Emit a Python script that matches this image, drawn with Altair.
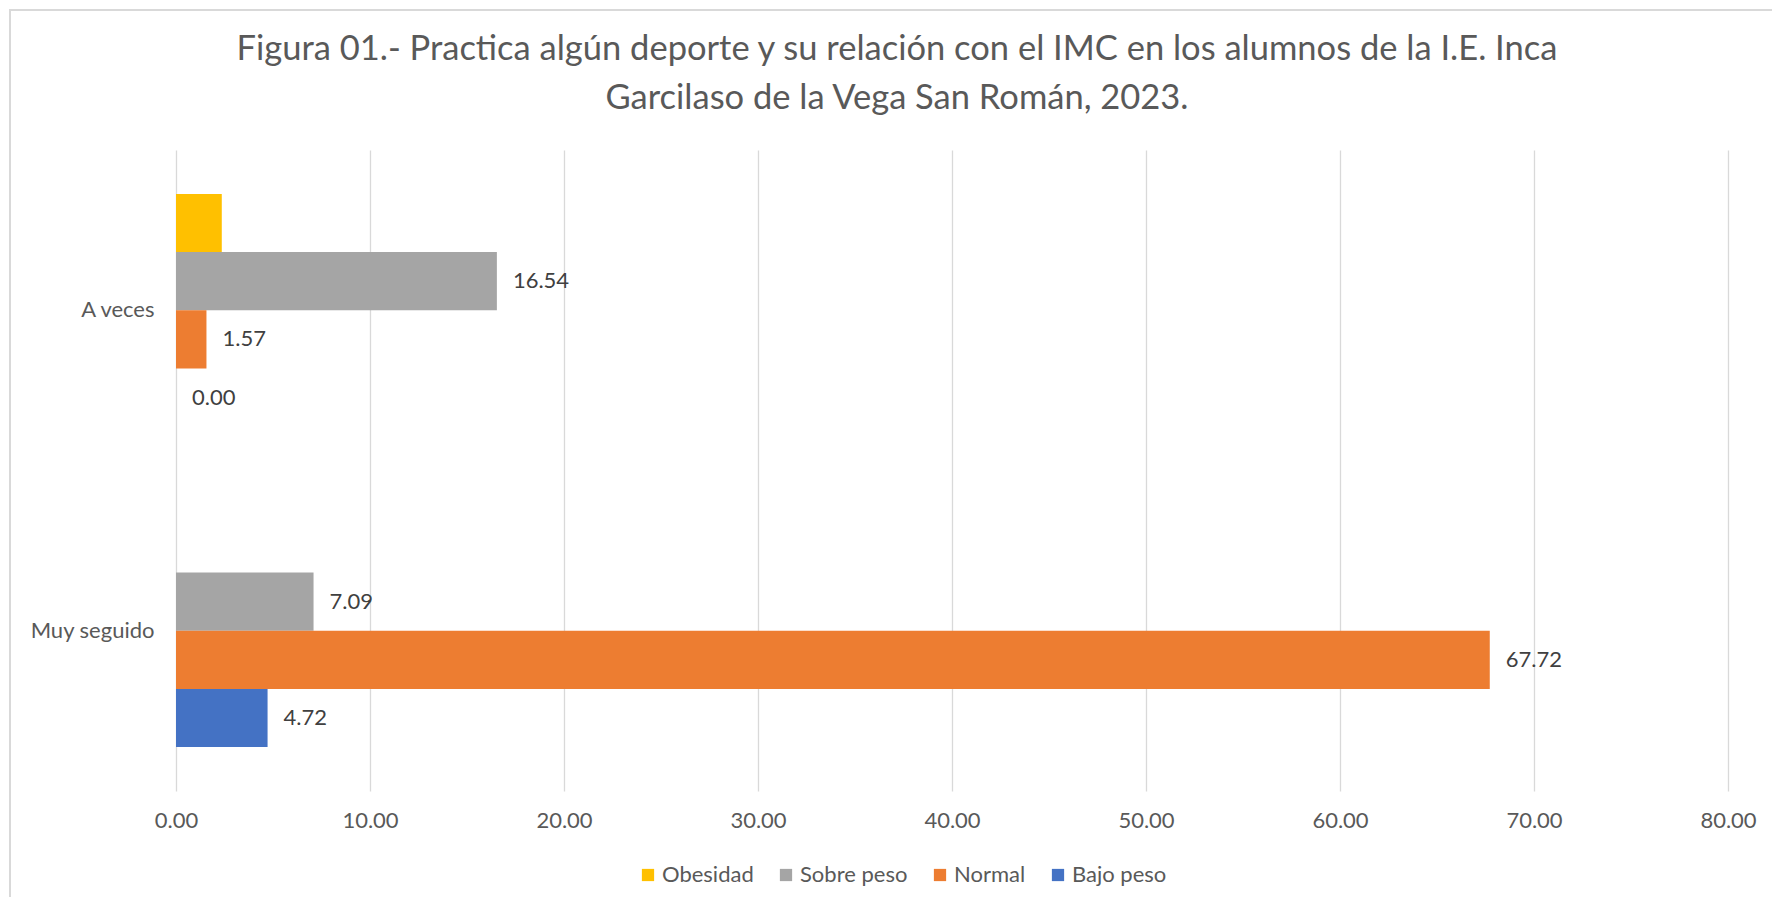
import altair as alt
import pandas as pd

titulo = ["Figura 01.- Practica algún deporte y su relación con el IMC en los alumnos de la I.E. Inca",
          "Garcilaso de la Vega San Román, 2023."]
categorias = ["A veces", "Muy seguido"]
series = ["Obesidad", "Sobre peso", "Normal", "Bajo peso"]
colores = ["#FFC000", "#A5A5A5", "#ED7D31", "#4472C4"]
a_veces = [2.36, 16.54, 1.57, 0.00]
muy_seguido = [0.00, 7.09, 67.72, 4.72]
etiquetas_a_veces = ["", "16.54", "1.57", "0.00"]
etiquetas_muy_seguido = ["", "7.09", "67.72", "4.72"]
ticks_x = [0, 10, 20, 30, 40, 50, 60, 70, 80]

rows = []
for s, v, e in zip(series, a_veces, etiquetas_a_veces):
    rows.append({"cat": "A veces", "serie": s, "valor": v, "etq": e})
for s, v, e in zip(series, muy_seguido, etiquetas_muy_seguido):
    rows.append({"cat": "Muy seguido", "serie": s, "valor": v, "etq": e})
df = pd.DataFrame(rows)

FONT = "Lato"
GRAY = "#595959"
FS = 22

y_enc = alt.Y("cat:N", sort=categorias, title=None,
              scale=alt.Scale(paddingInner=0.273, paddingOuter=0.137),
              axis=alt.Axis(domain=False, ticks=False, labelFontSize=FS, labelFont=FONT,
                            labelColor=GRAY, labelPadding=22, grid=False))
yoff = alt.YOffset("serie:N", sort=series, scale=alt.Scale(paddingInner=0, paddingOuter=0))
x_enc = alt.X("valor:Q", title=None,
              scale=alt.Scale(domain=[0, 80], nice=False),
              axis=alt.Axis(values=ticks_x, format=".2f", domain=False, ticks=False,
                            grid=True, gridColor="#D9D9D9", gridWidth=1.3,
                            labelFontSize=FS, labelFont=FONT, labelColor=GRAY,
                            labelPadding=19, labelFlush=False))

base = alt.Chart(df)

bars = base.mark_bar().encode(
    y=y_enc, yOffset=yoff, x=x_enc,
    color=alt.Color("serie:N", sort=series,
                    scale=alt.Scale(domain=series, range=colores),
                    legend=alt.Legend(title=None, orient="none", legendX=461, legendY=714,
                                      direction="horizontal", symbolType="square",
                                      symbolSize=150, symbolStrokeWidth=0,
                                      labelFontSize=FS, labelFont=FONT, labelColor=GRAY,
                                      columnPadding=21, labelOffset=3, padding=0)),
)

labels = base.mark_text(align="left", baseline="middle", dx=16, fontSize=FS,
                        font=FONT, color="#404040").encode(
    y=alt.Y("cat:N", sort=categorias), yOffset=yoff,
    x=alt.X("valor:Q"), text="etq:N",
)

frame = alt.Chart(pd.DataFrame({"a": [0]})).mark_rect(
    filled=False, stroke="#D9D9D9", strokeWidth=2).encode(
    x=alt.value(-166), x2=alt.value(1700), y=alt.value(-140), y2=alt.value(900))

chart = alt.layer(frame, bars, labels).properties(
    width=1552, height=641,
    padding={"left": 168, "top": 142, "right": 44, "bottom": 106},
    autosize=alt.AutoSizeParams(type="none"),
    title=alt.TitleParams(text=titulo, fontSize=34.5, font=FONT, fontWeight="normal",
                          color=GRAY, anchor="middle", frame="group", dx=-55,
                          offset=-107, lineHeight=49),
).configure_view(stroke=None)

chart.save("out.html", embed_options={"renderer": "svg", "actions": False})
